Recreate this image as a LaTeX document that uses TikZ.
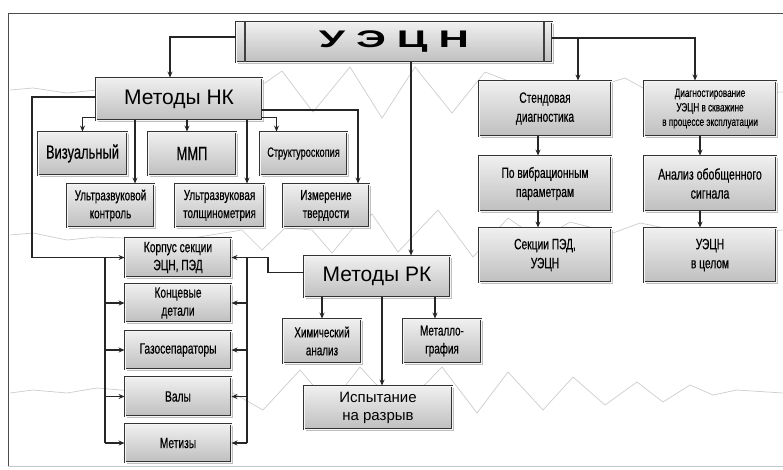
\documentclass[tikz,border=0pt]{standalone}
\usepackage{fontspec}
\setmainfont{Liberation Sans}
\newfontfamily\narrowfont[FakeStretch=0.68,FakeBold=0.4]{Liberation Sans}
\newfontfamily\titlefont[FakeStretch=1.75]{Liberation Sans}
\usetikzlibrary{arrows.meta}
\usetikzlibrary{shadows}
\usetikzlibrary{positioning}

\newcommand\boxfont{\narrowfont\fontsize{14.5}{18}\selectfont}
\newcommand\bigboxfont{\narrowfont\fontsize{19}{21}\selectfont}
\newcommand\smallboxfont{\narrowfont\fontsize{12}{14.5}\selectfont}
\newcommand\methfont{\fontsize{21}{24}\selectfont}

\begin{document}
\begin{tikzpicture}[
      x=1pt,y=-1pt,
      box/.style={draw=black!80,line width=0.9pt,double=gray!8,double distance=0.8pt,
        top color=gray!12,bottom color=gray!50,
        drop shadow={shadow xshift=2pt,shadow yshift=-2pt,fill=black!50},
        align=center,inner sep=1pt,font=\boxfont},
      arr/.style={draw=black!85,line width=1.1pt,-{Stealth[length=6pt,width=5pt]}},
      link/.style={draw=black!85,line width=1.1pt},
      zigzag/.style={draw=gray!40,line width=0.7pt},
    ]
    \useasboundingbox (0,0) rectangle (783,469);

    % background zigzags
    \draw[zigzag] (10,90) -- (33,88) -- (67,93) -- (97,90) -- (180,86) -- (265,83)
        -- (282,71) -- (313,112) -- (350,67) -- (382,118) -- (415,67) -- (452,113)
        -- (485,72) -- (545,95) -- (612,82) -- (625,78) -- (643,88) -- (700,95) -- (783,92);
    \draw[zigzag] (10,235) -- (33,233) -- (67,240) -- (97,237) -- (180,240) -- (242,230)
        -- (262,250) -- (285,228) -- (312,230) -- (332,253) -- (353,228) -- (372,214)
        -- (398,252) -- (438,210) -- (473,257) -- (508,218) -- (540,240) -- (570,222)
        -- (613,233) -- (640,223) -- (700,235) -- (783,230);
    \draw[zigzag] (10,393) -- (33,390) -- (67,393) -- (97,388) -- (180,395) -- (233,393)
        -- (263,410) -- (300,370) -- (330,405) -- (360,367) -- (400,410) -- (442,367)
        -- (477,413) -- (508,372) -- (543,410) -- (573,377) -- (605,405) -- (637,382)
        -- (663,402) -- (690,385) -- (713,395) -- (737,390) -- (783,393);

    % frame
    \draw[black!70,line width=0.9pt] (8,466) -- (8,13) -- (783,13);
    \draw[gray!45,line width=0.6pt] (8,466) -- (783,466);

    % top
    \node[box,minimum width=316,minimum height=40] (uecn) at (394,42)
        {\titlefont\bfseries\fontsize{24}{24}\selectfont У\hspace{11pt}Э\hspace{11pt}Ц\hspace{11pt}Н};
    \draw[black!75,line width=2pt] ([xshift=9pt]uecn.north west) -- ([xshift=9pt]uecn.south west);
    \draw[black!75,line width=2pt] ([xshift=-8pt]uecn.north east) -- ([xshift=-8pt]uecn.south east);

    % non-destructive methods
    \node[box,minimum width=166,minimum height=42,font=\methfont] (nk) at (179,99) {Методы НК};
    \node[box,minimum width=89,minimum height=43,font=\bigboxfont] (viz) at (82.5,153.5) {Визуальный};
    \node[box,minimum width=88,minimum height=43,font=\bigboxfont] (mmp) at (192,153.5) {ММП};
    \node[box,minimum width=87,minimum height=43,font=\narrowfont\fontsize{13.5}{16}\selectfont]
        (struct) at (303.5,153.5) {Структуроскопия};
    \node[box,minimum width=87,minimum height=43] (uzk) at (110.5,205.5) {Ультразвуковой\\контроль};
    \node[box,minimum width=89,minimum height=43] (uzt) at (219.5,205.5) {Ультразвуковая\\толщинометрия};
    \node[box,minimum width=86,minimum height=43] (izm) at (326,205.5) {Измерение\\твердости};

    % objects
    \node[box,minimum width=106,minimum height=39,font=\narrowfont\fontsize{15}{18}\selectfont]
        (korp) at (178,257.5) {Корпус секции\\ЭЦН, ПЭД};
    \node[box,minimum width=106,minimum height=38,font=\narrowfont\fontsize{15}{18}\selectfont]
        (konc) at (178,303) {Концевые\\детали};
    \node[box,minimum width=106,minimum height=38,font=\narrowfont\fontsize{15}{18}\selectfont]
        (gaz) at (178,350) {Газосепараторы};
    \node[box,minimum width=106,minimum height=39,font=\narrowfont\fontsize{15}{18}\selectfont]
        (val) at (178,396.5) {Валы};
    \node[box,minimum width=106,minimum height=38,font=\narrowfont\fontsize{15}{18}\selectfont]
        (met) at (178,443) {Метизы};

    % destructive methods
    \node[box,minimum width=146,minimum height=41,font=\methfont] (rk) at (377,276.5) {Методы РК};
    \node[box,minimum width=78,minimum height=44] (chem) at (322,341) {Химический\\анализ};
    \node[box,minimum width=78,minimum height=44] (metal) at (442,341) {Металло-\\графия};
    \node[box,minimum width=148,minimum height=43,font=\fontsize{15}{18}\selectfont]
        (isp) at (378,407.5) {Испытание\\на разрыв};

    % diagnostics
    \node[box,minimum width=132,minimum height=55,font=\narrowfont\fontsize{15}{19}\selectfont]
        (stend) at (545,108.5) {Стендовая\\диагностика};
    \node[box,minimum width=132,minimum height=55,font=\smallboxfont] (diag) at (710,108.5)
        {Диагностирование\\УЭЦН в скважине\\в процессе эксплуатации};
    \node[box,minimum width=132,minimum height=55,font=\narrowfont\fontsize{15}{19}\selectfont]
        (vib) at (545,183.5) {По вибрационным\\параметрам};
    \node[box,minimum width=132,minimum height=55,font=\narrowfont\fontsize{15.5}{19}\selectfont]
        (anal) at (710,183.5) {Анализ обобщенного\\сигнала};
    \node[box,minimum width=132,minimum height=54,font=\narrowfont\fontsize{15}{19}\selectfont]
        (sekc) at (545,255) {Секции ПЭД,\\УЭЦН};
    \node[box,minimum width=132,minimum height=54,font=\narrowfont\fontsize{15}{19}\selectfont]
        (celom) at (710,255) {УЭЦН\\в целом};

    % helper points
    \coordinate (lout) at (32,0);
    \coordinate (lbus) at (105,0);
    \coordinate (rbus) at (247,0);
    \coordinate (rturn) at (268,0);
    \coordinate (rkin) at ([xshift=34pt]rk.north);
    \coordinate (mmpin) at ([xshift=-5pt]mmp.north);
    \coordinate (uzkin) at ([xshift=24.5pt]uzk.north);
    \coordinate (uztin) at ([xshift=27.5pt]uzt.north);
    \coordinate (metalin) at ([xshift=-7pt]metal.north);
    \coordinate (ispin) at ([xshift=4pt]isp.north);

    % connectors from the top
    \draw[arr] ([yshift=5pt]uecn.west) -| ([xshift=-9pt]nk.north);
    \draw[arr] ([yshift=4pt]uecn.east) -| ([xshift=33pt]stend.north);
    \draw[arr] ([yshift=4pt]uecn.east) -| ([xshift=-15pt]diag.north);
    \draw[arr] (uecn.south -| rkin) -- (rkin);

    % NK branches
    \draw[arr] ([yshift=3pt]nk.south west) -| (viz.north);
    \draw[arr] (nk.south -| mmpin) -- (mmpin);
    \draw[arr] ([yshift=3pt]nk.south east) -| ([xshift=-27pt]struct.north);
    \draw[arr] (nk.south -| uzkin) -- (uzkin);
    \draw[arr] (nk.south -| uztin) -- (uztin);
    \draw[arr] ([yshift=-11pt]nk.east) -| ([xshift=32pt]izm.north);

    % buses to the objects
    \draw[arr] ([yshift=2pt]nk.west) -| (lout |- korp.west) -- (korp.west);
    \draw[link] (lbus |- korp.west) -- (lbus |- met.west);
    \foreach \obj in {konc,gaz,val,met}
        \draw[arr] (lbus |- \obj.west) -- (\obj.west);
    \draw[arr] ([yshift=4pt]rk.west) -| (rturn |- korp.east) -- (korp.east);
    \draw[link] (rbus |- korp.east) -- (rbus |- met.east);
    \foreach \obj in {konc,gaz,val,met}
        \draw[arr] (rbus |- \obj.east) -- (\obj.east);

    % RK branches
    \draw[arr] (rk.south -| chem.north) -- (chem.north);
    \draw[arr] (rk.south -| metalin) -- (metalin);
    \draw[arr] (rk.south -| ispin) -- (ispin);

    % diagnostic chains
    \draw[arr] ([xshift=-7pt]stend.south) -- ([xshift=-7pt]vib.north);
    \draw[arr] ([xshift=-7pt]vib.south) -- ([xshift=-7pt]sekc.north);
    \draw[arr] ([xshift=-10pt]diag.south) -- ([xshift=-10pt]anal.north);
    \draw[arr] ([xshift=-10pt]anal.south) -- ([xshift=-10pt]celom.north);
\end{tikzpicture}
\end{document}
